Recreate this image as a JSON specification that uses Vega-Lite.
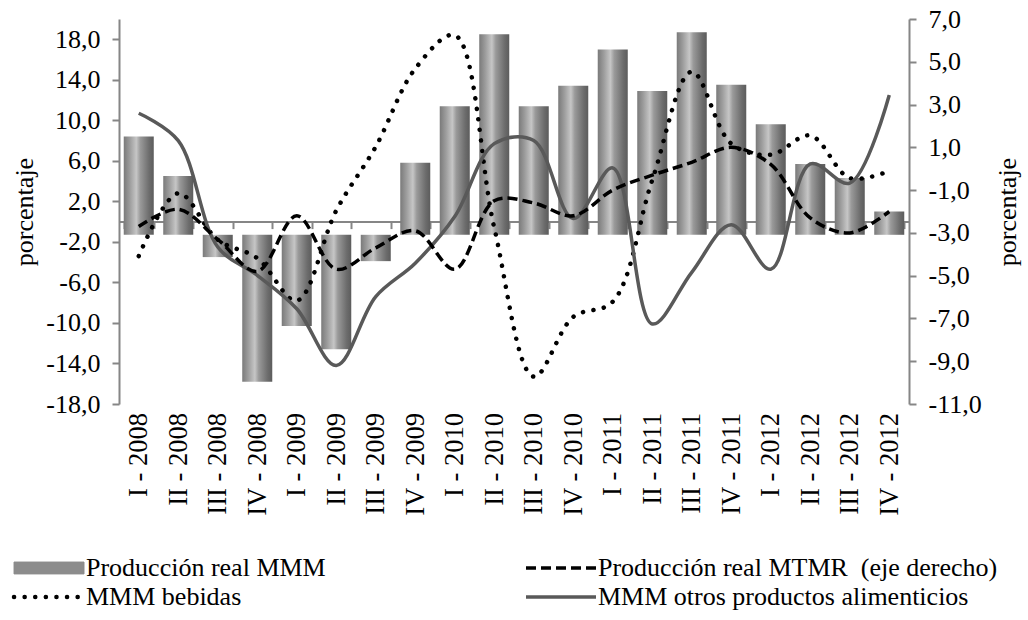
{
  "$schema": "https://vega.github.io/schema/vega-lite/v6.json",
  "width": 790,
  "height": 385,
  "autosize": {"type": "none"},
  "padding": {"left": 119, "top": 19, "right": 119, "bottom": 216},
  "background": "white",
  "config": {
    "view": {"stroke": null},
    "font": "Liberation Serif",
    "locale": {"number": {"decimal": ",", "thousands": ".", "grouping": [3], "currency": ["", " €"], "minus": "-"}},
    "axis": {
      "labelFont": "Liberation Serif", "titleFont": "Liberation Serif",
      "labelColor": "#000", "titleColor": "#000",
      "domainColor": "#868686", "tickColor": "#868686",
      "domainWidth": 2, "tickWidth": 2, "grid": false,
      "labelFontSize": 26, "titleFontSize": 26, "titleFontWeight": "normal"
    },
    "legend": {
      "orient": "none", "legendX": -83, "legendY": 536,
      "columns": 2, "symbolType": "stroke", "symbolSize": 4900,
      "labelFont": "Liberation Serif", "labelFontSize": 26, "labelColor": "#000",
      "labelLimit": 700, "columnPadding": 193, "rowPadding": 3, "labelOffset": 24
    }
  },
  "data": {"values": [
    {"q": "I - 2008", "mmm": 8.4, "mtmr": -2.7, "beb": -3.4, "otros": 10.7},
    {"q": "II - 2008", "mmm": 4.5, "mtmr": -1.9, "beb": 2.8, "otros": 8.0},
    {"q": "III - 2008", "mmm": -3.5, "mtmr": -3.3, "beb": -1.8, "otros": -2.5},
    {"q": "IV - 2008", "mmm": -15.8, "mtmr": -4.8, "beb": -3.6, "otros": -5.3},
    {"q": "I - 2009", "mmm": -10.3, "mtmr": -2.2, "beb": -7.8, "otros": -8.6},
    {"q": "II - 2009", "mmm": -12.6, "mtmr": -4.7, "beb": 1.1, "otros": -14.2},
    {"q": "III - 2009", "mmm": -3.9, "mtmr": -3.7, "beb": 7.4, "otros": -7.4},
    {"q": "IV - 2009", "mmm": 5.8, "mtmr": -2.9, "beb": 15.1, "otros": -4.1},
    {"q": "I - 2010", "mmm": 11.4, "mtmr": -4.7, "beb": 18.4, "otros": 0.5},
    {"q": "II - 2010", "mmm": 18.5, "mtmr": -1.5, "beb": -0.6, "otros": 7.7},
    {"q": "III - 2010", "mmm": 11.4, "mtmr": -1.6, "beb": -15.3, "otros": 8.0},
    {"q": "IV - 2010", "mmm": 13.4, "mtmr": -2.2, "beb": -9.4, "otros": 0.3},
    {"q": "I - 2011", "mmm": 17.0, "mtmr": -1.0, "beb": -7.9, "otros": 5.3},
    {"q": "II - 2011", "mmm": 12.9, "mtmr": -0.3, "beb": 4.1, "otros": -10.1},
    {"q": "III - 2011", "mmm": 18.7, "mtmr": 0.3, "beb": 14.8, "otros": -5.0},
    {"q": "IV - 2011", "mmm": 13.5, "mtmr": 1.0, "beb": 7.7, "otros": -0.3},
    {"q": "I - 2012", "mmm": 9.6, "mtmr": 0.2, "beb": 6.6, "otros": -4.7},
    {"q": "II - 2012", "mmm": 5.7, "mtmr": -2.3, "beb": 8.5, "otros": 5.7},
    {"q": "III - 2012", "mmm": 4.3, "mtmr": -3.0, "beb": 4.3, "otros": 3.8},
    {"q": "IV - 2012", "mmm": 1.0, "mtmr": -2.0, "beb": 5.0, "otros": 12.5}
  ]},
  "layer": [
    {
      "layer": [
        {
          "mark": {
            "type": "bar",
            "fill": {
              "gradient": "linear", "x1": 0, "x2": 1, "y1": 0, "y2": 0,
              "stops": [
                {"offset": 0, "color": "#7a7a7a"},
                {"offset": 0.2, "color": "#9c9c9c"},
                {"offset": 0.42, "color": "#c6c6c6"},
                {"offset": 0.55, "color": "#9a9a9a"},
                {"offset": 0.85, "color": "#6c6c6c"},
                {"offset": 1, "color": "#5c5c5c"}
              ]
            }
          },
          "encoding": {
            "x": {
              "field": "q", "type": "ordinal", "sort": null,
              "scale": {"paddingInner": 0.24, "paddingOuter": 0.12},
              "axis": {
                "orient": "bottom", "offset": -182.4, "tickBand": "extent", "tickSize": 7,
                "labelAngle": 270, "labelAlign": "right", "labelBaseline": "middle",
                "labelPadding": 184, "labelFontSize": 26.5, "labelOverlap": false,
                "title": null
              }
            },
            "y": {
              "field": "mmm", "type": "quantitative",
              "scale": {"domain": [-18, 20], "nice": false, "zero": false},
              "title": "porcentaje",
              "axis": {
                "orient": "left", "values": [-18, -14, -10, -6, -2, 2, 6, 10, 14, 18],
                "format": ".1f", "tickSize": 7, "labelPadding": 12, "titlePadding": 8
              }
            },
            "y2": {"datum": -1.3}
          }
        },
        {
          "mark": {"type": "line", "interpolate": "catmull-rom", "strokeWidth": 4.5, "strokeDash": [0.1, 10.5], "strokeCap": "round"},
          "encoding": {
            "x": {"field": "q", "type": "ordinal", "sort": null},
            "y": {"field": "beb", "type": "quantitative", "title": "porcentaje"},
            "color": {
              "datum": "MMM bebidas", "type": "nominal",
              "scale": {
                "domain": ["Producción real MMM", "MMM bebidas", "Producción real MTMR\u00a0 (eje derecho)", "MMM otros productos alimenticios"],
                "range": ["#8c8c8c", "#000000", "#000000", "#595959"]
              },
              "legend": {
                "title": null,
                "encode": {"symbols": {"update": {
                  "shape": {"signal": "datum.value == 'Producción real MMM' ? 'M-1,-0.17H1V0.17H-1Z' : 'stroke'"},
                  "strokeDash": {"signal": "datum.value == 'MMM bebidas' ? [0.1, 10.5] : (indexof(datum.value, 'MTMR') >= 0 ? [10, 5] : [1, 0])"},
                  "strokeWidth": {"signal": "datum.value == 'MMM bebidas' ? 4.5 : (datum.value == 'Producción real MMM' ? 1 : 3.5)"},
                  "strokeCap": {"signal": "datum.value == 'MMM bebidas' ? 'round' : 'butt'"},
                  "fill": {"signal": "datum.value == 'Producción real MMM' ? '#8c8c8c' : 'transparent'"},
                  "stroke": {"signal": "datum.value == 'Producción real MMM' ? '#7a7a7a' : (datum.value == 'MMM otros productos alimenticios' ? '#595959' : '#000000')"},
                  "opacity": {"value": 1}
                }}}
              }
            }
          }
        },
        {
          "mark": {"type": "line", "interpolate": "catmull-rom", "strokeWidth": 3.5},
          "encoding": {
            "x": {"field": "q", "type": "ordinal", "sort": null},
            "y": {"field": "otros", "type": "quantitative", "title": "porcentaje"},
            "color": {
              "datum": "MMM otros productos alimenticios", "type": "nominal"
            }
          }
        }
      ]
    },
    {
      "mark": {"type": "line", "interpolate": "catmull-rom", "strokeWidth": 3.5, "strokeDash": [10, 5]},
      "encoding": {
        "x": {"field": "q", "type": "ordinal", "sort": null},
        "y": {
          "field": "mtmr", "type": "quantitative",
          "scale": {"domain": [-11, 7], "nice": false, "zero": false},
          "title": "porcentaje",
          "axis": {
            "orient": "right", "values": [-11, -9, -7, -5, -3, -1, 1, 3, 5, 7],
            "format": ".1f", "tickSize": 7, "labelPadding": 12,
            "titleAngle": 270, "titleBaseline": "top", "titlePadding": 13
          }
        },
        "color": {"datum": "Producción real MTMR\u00a0 (eje derecho)", "type": "nominal"}
      }
    }
  ],
  "resolve": {"scale": {"y": "independent"}}
}
